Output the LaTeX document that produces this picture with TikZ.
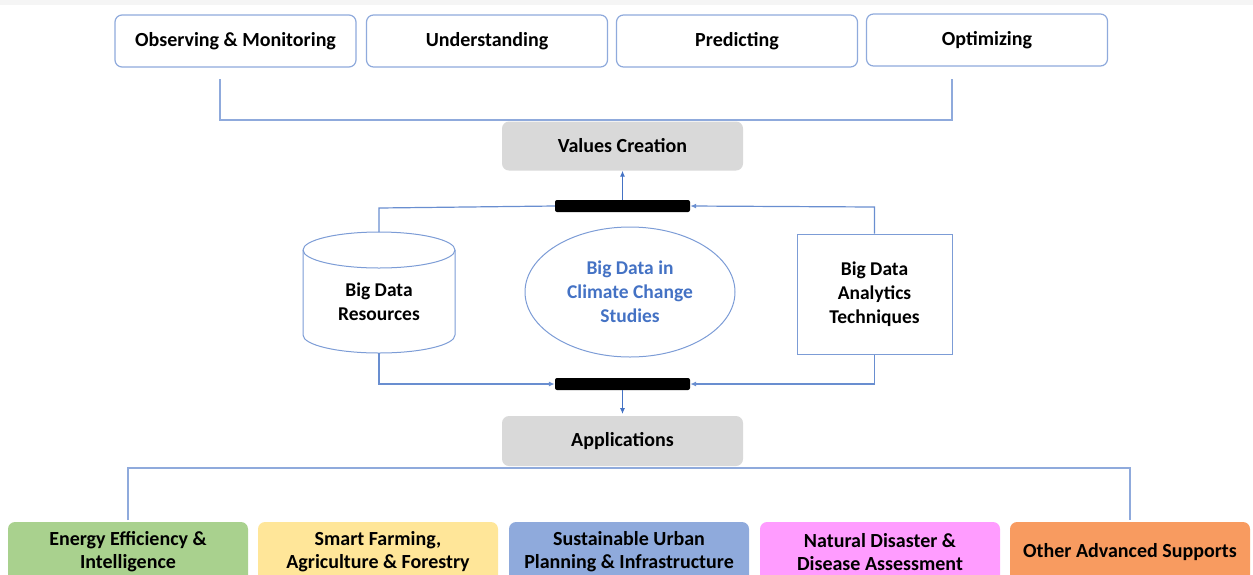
\documentclass[tikz,border=0pt]{standalone}
\usepackage{fontspec}
\setmainfont{Carlito}
\usetikzlibrary{arrows.meta,shapes.geometric}
\definecolor{bord}{HTML}{8FAADC}
\definecolor{lnk}{HTML}{8FAADC}
\definecolor{arr}{HTML}{4472C4}
\definecolor{grayf}{HTML}{D9D9D9}
\definecolor{cgreen}{HTML}{A9D18E}
\definecolor{cyellow}{HTML}{FFE699}
\definecolor{cblue}{HTML}{8FAADC}
\definecolor{cpink}{HTML}{FF9CFF}
\definecolor{corange}{HTML}{F89B60}
\tikzset{
  topbox/.style={draw=bord, line width=1.2pt, rounded corners=7pt, fill=white, minimum width=241pt, minimum height=52pt, font=\bfseries\fontsize{20}{23}\selectfont, inner sep=0pt},
  graybox/.style={draw=none, rounded corners=7pt, fill=grayf, minimum width=241pt, minimum height=49pt, font=\bfseries\fontsize{20}{23}\selectfont, inner sep=0pt},
  appbox/.style={draw=none, rounded corners=7pt, minimum width=240pt, minimum height=60pt, font=\bfseries\fontsize{20}{23}\selectfont, align=center, inner sep=0pt},
  bar/.style={fill=black, rounded corners=2pt, minimum width=135pt, minimum height=12pt, inner sep=0pt},
  lnkline/.style={draw=lnk, line width=1.2pt},
  shapeline/.style={draw=arr!70, line width=1pt},
  arrline/.style={draw=arr, line width=1pt, -{Latex[length=6pt,width=5pt]}},
  midtext/.style={font=\bfseries\fontsize{19.5}{24}\selectfont, align=center}
}
\begin{document}
\begin{tikzpicture}[x=1pt,y=-1pt]
\useasboundingbox (0,0) rectangle (1253,574);
\clip (0,0) rectangle (1253,574);
\fill[gray!8] (0,0) rectangle (1253,5);
% top boxes
\node[topbox] (obs) at (235.5,41) {Observing \& Monitoring};
\node[topbox] (und) at (487,41) {Understanding};
\node[topbox] (pre) at (737,41) {Predicting};
\node[topbox] (opt) at (987,40) {Optimizing};
\coordinate (tl) at (220,79);
\coordinate (tr) at (952,79);
\draw[lnkline] (tl) -- (220,120) -- (952,120) -- (tr);
% values creation
\node[graybox] (val) at (622.5,146) {Values Creation};
% bars
\node[bar] (bartop) at (622.5,206) {};
\node[bar] (barbot) at (622.5,384) {};
\draw[arrline] (bartop.north) -- (val.south);
\draw[arrline] (barbot.south) -- (622.5,414);
% cylinder (drawn directly)
\coordinate (cyltop) at (379,232);
\coordinate (cylbot) at (379,353);
\draw[shapeline, fill=white] (303,250) -- (303,335) arc[start angle=180, end angle=360, x radius=76, y radius=-18] -- (455,250) arc[start angle=0, end angle=180, x radius=76, y radius=-18] -- cycle;
\draw[shapeline] (303,250) arc[start angle=180, end angle=360, x radius=76, y radius=-18];
\node[midtext] (cyltext) at (379,302) {Big Data\\Resources};
% ellipse
\node[ellipse, shapeline, minimum width=210pt, minimum height=130pt, inner sep=0pt, midtext, text=arr] (ell) at (630,292) {Big Data in\\Climate Change\\Studies};
% rectangle
\node[rectangle, shapeline, minimum width=155pt, minimum height=120pt, inner sep=0pt, midtext] (tech) at (874.5,294) {Big Data\\Analytics\\Techniques};
% connectors to bars
\draw[lnkline, draw=arr!80] (cyltop) -- (379,208) -- (bartop.west);
\draw[lnkline, draw=arr!80, -{Latex[length=6pt,width=5pt]}] (tech.north) -- (874.5,207) -- (bartop.east);
\draw[lnkline, draw=arr!80, -{Latex[length=6pt,width=5pt]}] (cylbot) -- (379,384) -- (barbot.west);
\draw[lnkline, draw=arr!80, -{Latex[length=6pt,width=5pt]}] (tech.south) -- (874.5,384) -- (barbot.east);
% applications
\node[graybox, minimum height=50pt] (app) at (622.5,441) {Applications};
% bottom boxes
\node[appbox, fill=cgreen] (b1) at (128,552) {Energy Efficiency \&\\Intelligence};
\node[appbox, fill=cyellow] (b2) at (378,552) {Smart Farming,\\Agriculture \& Forestry};
\node[appbox, fill=cblue] (b3) at (629,552) {Sustainable Urban\\Planning \& Infrastructure};
\node[appbox, fill=cpink] (b4) at (880,552) {Natural Disaster \&\\Disease Assessment};
\node[appbox, fill=corange] (b5) at (1130,552) {Other Advanced Supports};
\coordinate (bl) at (128,520);
\coordinate (br) at (1130,520);
\draw[lnkline] (bl) -- (128,468) -- (1130,468) -- (br);
\end{tikzpicture}
\end{document}
